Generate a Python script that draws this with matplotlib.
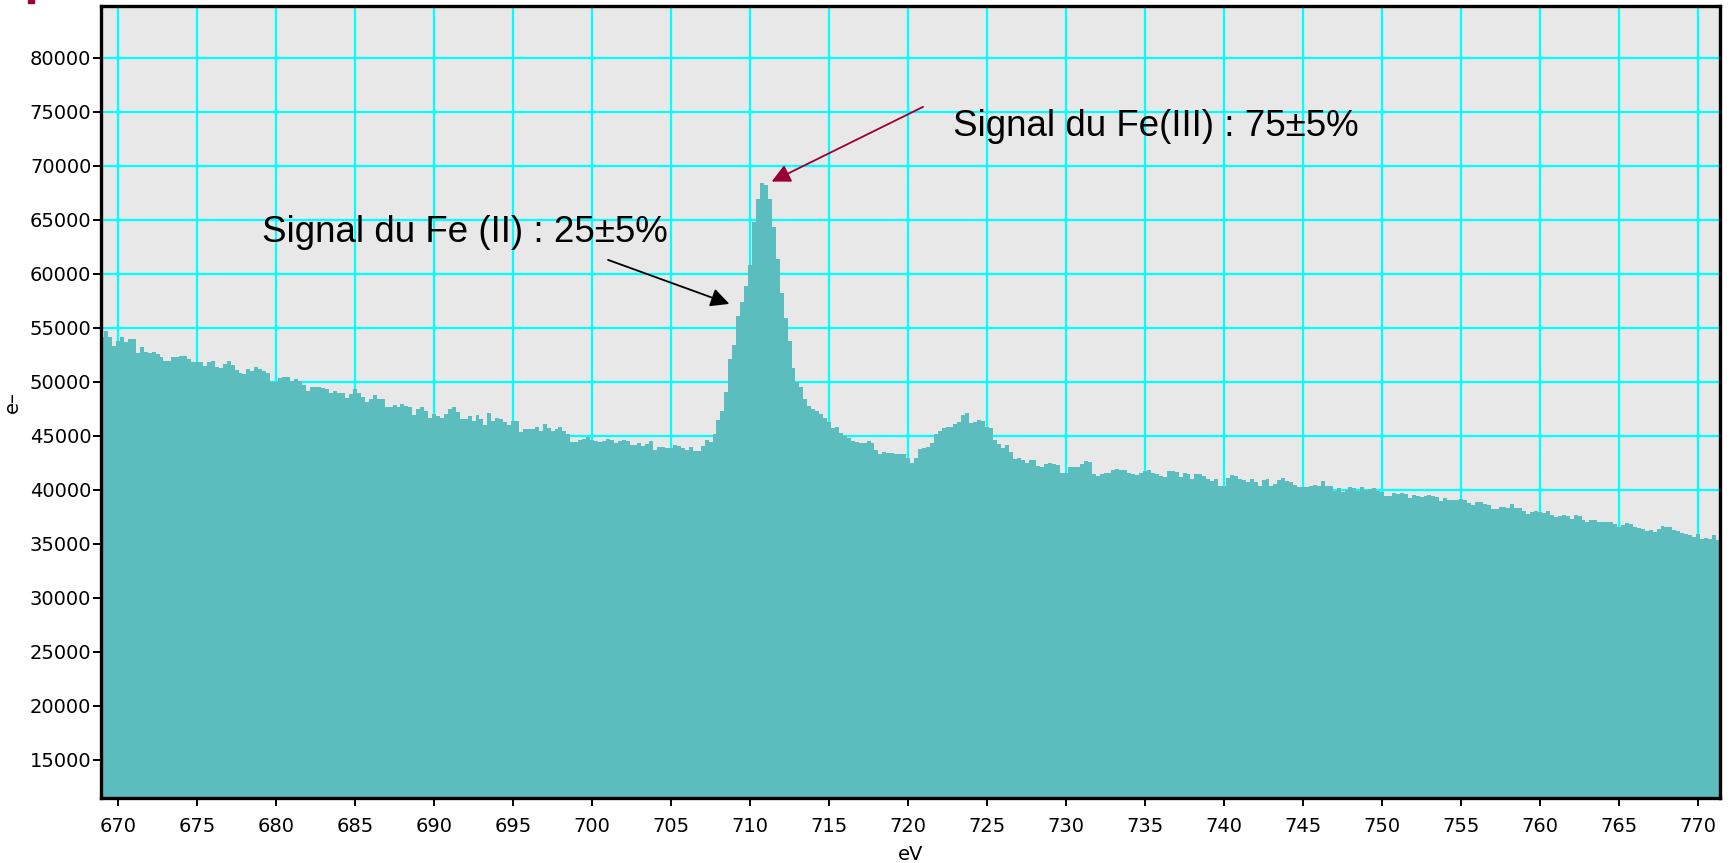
import numpy as np
import matplotlib
matplotlib.use('Agg')
import matplotlib.pyplot as plt
from matplotlib.patches import Rectangle

# spectrum, channel width 0.25 eV, counts in thousands of e-
e_start = 669.0
e_step = 0.25
counts_k = [
    54.2, 54.7, 54.2, 53.3, 53.8, 54.2, 53.7, 54.0, 54.0, 52.7,
    53.2, 52.8, 52.7, 52.8, 52.6, 52.3, 51.9, 51.9, 52.3, 52.3,
    52.4, 52.4, 52.1, 51.8, 51.8, 51.8, 51.5, 51.8, 51.9, 51.4,
    51.3, 51.7, 51.9, 51.6, 51.1, 50.8, 50.7, 51.2, 51.0, 51.4,
    51.2, 51.0, 50.8, 50.0, 50.0, 50.4, 50.5, 50.5, 50.1, 50.3,
    50.1, 49.7, 49.2, 49.5, 49.5, 49.5, 49.4, 49.35, 49.0, 49.2,
    49.0, 49.0, 48.5, 48.9, 49.3, 49.0, 48.6, 48.1, 48.4, 48.8,
    48.4, 48.4, 47.7, 47.7, 47.9, 47.7, 48.0, 47.8, 47.7, 46.9,
    47.5, 47.7, 47.3, 46.7, 47.0, 46.8, 46.7, 47.0, 47.5, 47.7,
    47.2, 46.6, 46.6, 46.8, 46.4, 46.9, 46.6, 46.0, 47.1, 46.4,
    46.7, 46.6, 46.3, 46.0, 46.4, 46.4, 45.4, 45.65, 45.65, 45.6,
    45.8, 45.5, 46.1, 45.7, 45.5, 45.6, 45.8, 45.5, 45.2, 44.4,
    44.4, 44.6, 44.7, 44.9, 44.6, 44.5, 44.45, 44.5, 44.7, 44.65,
    44.3, 44.5, 44.65, 44.55, 44.17, 44.17, 44.35, 44.1, 44.25, 44.5,
    43.7, 44.0, 44.0, 43.9, 43.85, 44.15, 44.1, 43.9, 43.7, 44.0,
    43.65, 43.6, 44.1, 44.6, 44.4, 45.2, 46.5, 47.3, 49.1, 52.1,
    53.4, 56.1, 57.4, 58.9, 60.8, 64.8, 66.9, 68.4, 68.2, 66.9,
    64.3, 61.4, 58.2, 55.9, 53.8, 51.3, 50.0, 49.5, 48.4, 47.8,
    47.5, 47.3, 47.0, 46.7, 46.3, 45.7, 45.8, 45.3, 45.0, 44.8,
    44.5, 44.4, 44.3, 44.3, 44.55, 44.3, 43.7, 43.3, 43.55, 43.45,
    43.4, 43.33, 43.33, 43.3, 42.93, 42.53, 43.0, 43.8, 43.9, 44.0,
    44.3, 45.2, 45.45, 45.75, 45.8, 45.83, 46.1, 46.3, 46.9, 47.1,
    46.2, 46.3, 46.5, 46.4, 45.83, 45.75, 44.6, 44.25, 43.9, 44.2,
    43.55, 42.87, 43.0, 42.8, 42.5, 42.8, 42.8, 42.22, 42.1, 42.4,
    42.5, 42.4, 42.3, 41.6, 41.6, 42.1, 42.13, 42.15, 42.4, 42.7,
    42.6, 41.5, 41.3, 41.48, 41.6, 41.6, 41.8, 41.9, 41.85, 41.85,
    41.6, 41.45, 41.35, 41.55, 41.76, 41.8, 41.6, 41.45, 41.3, 41.2,
    41.76, 41.76, 41.7, 41.2, 41.6, 41.45, 41.05, 41.48, 41.45, 41.3,
    41.02, 40.85, 41.0, 40.35, 40.4, 41.11, 41.42, 41.25, 40.97, 40.95,
    40.74, 41.02, 40.75, 40.4, 40.9, 41.0, 40.4, 40.55, 40.95, 41.11,
    40.8, 40.74, 40.5, 40.3, 40.25, 40.3, 40.35, 40.5, 40.4, 40.8,
    40.35, 40.35, 39.9, 40.2, 39.85, 40.0, 40.28, 40.2, 39.91, 40.28,
    40.0, 40.1, 40.2, 39.91, 39.8, 39.4, 39.4, 39.7, 39.63, 39.7,
    39.6, 39.26, 39.54, 39.4, 39.3, 39.45, 39.54, 39.45, 39.3, 39.0,
    39.26, 39.1, 39.05, 39.05, 39.14, 39.05, 38.8, 38.6, 38.85, 38.9,
    38.7, 38.6, 38.25, 38.2, 38.4, 38.4, 38.3, 38.7, 38.3, 38.3,
    38.05, 37.8, 37.97, 38.06, 37.95, 37.84, 38.06, 37.69, 37.5, 37.55,
    37.7, 37.58, 37.3, 37.69, 37.55, 37.25, 37.07, 37.25, 37.2, 37.05,
    37.07, 37.05, 37.05, 36.85, 36.6, 36.76, 36.91, 36.88, 36.6, 36.5,
    36.35, 36.23, 36.3, 36.14, 36.35, 36.67, 36.55, 36.54, 36.25, 36.18,
    36.05, 35.95, 35.8, 35.6, 35.93, 35.5, 35.55, 35.5, 35.8, 35.37,
]

x_ticks = list(range(670, 771, 5))
y_ticks = list(range(15000, 80001, 5000))

label_fe3 = 'Signal du Fe(III) : 75±5%'
label_fe2 = 'Signal du Fe (II) : 25±5%'

counts = np.array(counts_k) * 1000
edges = e_start - e_step / 2 + e_step * np.arange(len(counts) + 1)

fig = plt.figure(figsize=(17.33, 8.63), dpi=100)
ax = fig.add_axes([101 / 1733, 65 / 863, 1619 / 1733, 792 / 863])
ax.set_facecolor('#e8e8e8')

# histogram of the spectrum
ax.stairs(counts, edges, fill=True, color='#5bbdbd', linewidth=0, zorder=1)

ax.set_xlim(668.92, 771.39)
ax.set_ylim(11480, 84800)
ax.set_xticks(x_ticks)
ax.set_yticks(y_ticks)
ax.set_axisbelow(True)
ax.grid(True, color='#00ffff', linewidth=1.6)

for s in ax.spines.values():
    s.set_linewidth(2.4)
    s.set_color('black')
ax.tick_params(direction='out', length=6, width=1.4, labelsize=14,
               colors='black')
ax.tick_params(axis='y', pad=1)
ax.tick_params(axis='x', pad=8)

ax.set_xlabel('eV', fontsize=14)
ax.set_ylabel('e–', fontsize=14)
ax.xaxis.set_label_coords(0.5, -0.059)
ax.yaxis.set_label_coords(-0.0488, 0.5)

# annotations
ax.text(722.85, 73611, label_fe3, fontsize=26.5, family='Liberation Sans',
        ha='left', va='center', zorder=3)
ax.annotate('', xy=(711.37, 68546), xytext=(720.95, 75463),
            arrowprops=dict(arrowstyle='-|>', color='#990033', lw=1.3,
                            mutation_scale=28, shrinkA=0, shrinkB=0),
            zorder=3)
ax.text(679.11, 63796, label_fe2, fontsize=26.5, family='Liberation Sans',
        ha='left', va='center', zorder=3)
ax.annotate('', xy=(708.69, 57222), xytext=(701.01, 61296),
            arrowprops=dict(arrowstyle='-|>', color='black', lw=1.3,
                            mutation_scale=28, shrinkA=0, shrinkB=0),
            zorder=3)

# small red mark cut off at the top left corner
fig.patches.append(Rectangle((28 / 1733, 1 - 3 / 863), 6 / 1733, 3 / 863,
                             transform=fig.transFigure, color='#a0003c'))

fig.savefig('out.png', dpi=100)
